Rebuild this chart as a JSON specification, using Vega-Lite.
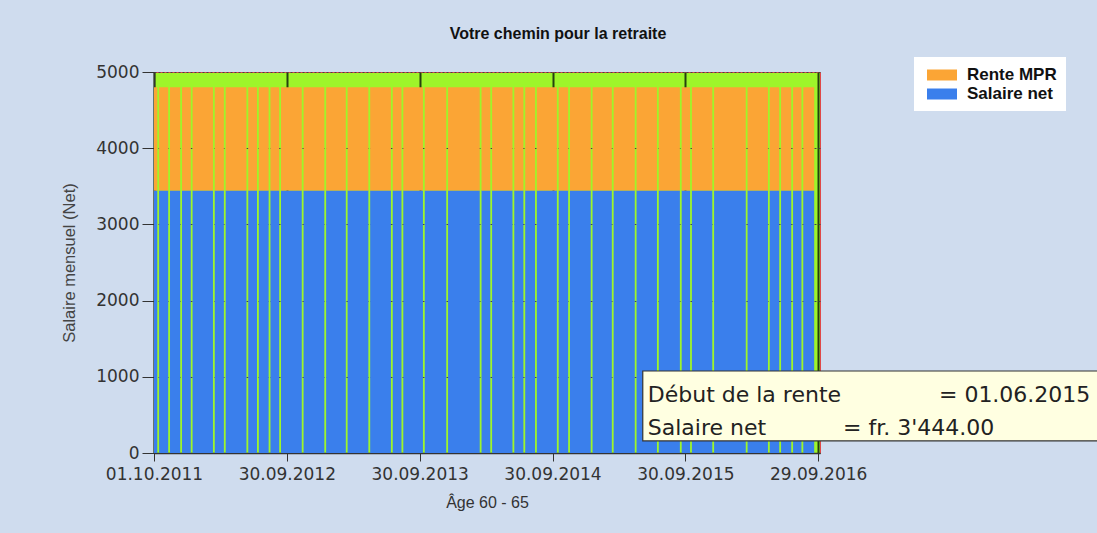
{
  "$schema": "https://vega.github.io/schema/vega-lite/v6.json",
  "autosize": {"type": "none"},
  "width": 666,
  "height": 381,
  "padding": {"left": 154, "top": 72, "right": 277, "bottom": 80},
  "background": "#cfdcee",
  "title": {
    "text": "Votre chemin pour la retraite",
    "font": "Liberation Sans",
    "fontSize": 16,
    "fontWeight": "bold",
    "color": "#111111",
    "anchor": "middle",
    "frame": "group",
    "dx": 71,
    "offset": 15
  },
  "config": {
    "view": {"fill": "#9ef52a", "stroke": "#e04848", "strokeWidth": 1},
    "legend": {
      "orient": "none",
      "legendX": 760,
      "legendY": -15,
      "fillColor": "#ffffff",
      "padding": 9,
      "symbolType": "M-0.556,-0.611L2.778,-0.611L2.778,0.611L-0.556,0.611Z",
      "symbolSize": 324,
      "symbolStrokeWidth": 0,
      "labelOffset": 26,
      "labelFont": "Liberation Sans",
      "labelFontSize": 17,
      "labelFontWeight": "bold",
      "labelColor": "#111111",
      "rowPadding": 2
    }
  },
  "datasets": {
    "barres": [
      {"debut": "2011-10-01", "fin": "2011-10-10", "Salaire net": 3444, "Rente MPR": 1356},
      {"debut": "2011-10-15", "fin": "2011-11-09", "Salaire net": 3444, "Rente MPR": 1356},
      {"debut": "2011-11-14", "fin": "2011-12-12", "Salaire net": 3444, "Rente MPR": 1356},
      {"debut": "2011-12-17", "fin": "2012-01-10", "Salaire net": 3444, "Rente MPR": 1356},
      {"debut": "2012-01-15", "fin": "2012-03-11", "Salaire net": 3444, "Rente MPR": 1356},
      {"debut": "2012-03-16", "fin": "2012-04-10", "Salaire net": 3444, "Rente MPR": 1356},
      {"debut": "2012-04-15", "fin": "2012-06-11", "Salaire net": 3444, "Rente MPR": 1356},
      {"debut": "2012-06-16", "fin": "2012-07-10", "Salaire net": 3444, "Rente MPR": 1356},
      {"debut": "2012-07-15", "fin": "2012-08-11", "Salaire net": 3444, "Rente MPR": 1356},
      {"debut": "2012-08-16", "fin": "2012-09-09", "Salaire net": 3444, "Rente MPR": 1356},
      {"debut": "2012-09-14", "fin": "2012-11-10", "Salaire net": 3444, "Rente MPR": 1356},
      {"debut": "2012-11-15", "fin": "2013-01-11", "Salaire net": 3444, "Rente MPR": 1356},
      {"debut": "2013-01-16", "fin": "2013-03-11", "Salaire net": 3444, "Rente MPR": 1356},
      {"debut": "2013-03-16", "fin": "2013-05-12", "Salaire net": 3444, "Rente MPR": 1356},
      {"debut": "2013-05-17", "fin": "2013-07-13", "Salaire net": 3444, "Rente MPR": 1356},
      {"debut": "2013-07-18", "fin": "2013-08-11", "Salaire net": 3444, "Rente MPR": 1356},
      {"debut": "2013-08-16", "fin": "2013-10-09", "Salaire net": 3444, "Rente MPR": 1356},
      {"debut": "2013-10-14", "fin": "2013-12-12", "Salaire net": 3444, "Rente MPR": 1356},
      {"debut": "2013-12-17", "fin": "2014-03-14", "Salaire net": 3444, "Rente MPR": 1356},
      {"debut": "2014-03-19", "fin": "2014-04-12", "Salaire net": 3444, "Rente MPR": 1356},
      {"debut": "2014-04-17", "fin": "2014-06-12", "Salaire net": 3444, "Rente MPR": 1356},
      {"debut": "2014-06-17", "fin": "2014-07-12", "Salaire net": 3444, "Rente MPR": 1356},
      {"debut": "2014-07-17", "fin": "2014-08-13", "Salaire net": 3444, "Rente MPR": 1356},
      {"debut": "2014-08-18", "fin": "2014-10-12", "Salaire net": 3444, "Rente MPR": 1356},
      {"debut": "2014-10-17", "fin": "2014-11-12", "Salaire net": 3444, "Rente MPR": 1356},
      {"debut": "2014-11-17", "fin": "2015-01-13", "Salaire net": 3444, "Rente MPR": 1356},
      {"debut": "2015-01-18", "fin": "2015-03-12", "Salaire net": 3444, "Rente MPR": 1356},
      {"debut": "2015-03-17", "fin": "2015-05-14", "Salaire net": 3444, "Rente MPR": 1356},
      {"debut": "2015-05-19", "fin": "2015-07-14", "Salaire net": 3444, "Rente MPR": 1356},
      {"debut": "2015-07-19", "fin": "2015-09-15", "Salaire net": 3444, "Rente MPR": 1356},
      {"debut": "2015-09-20", "fin": "2015-10-13", "Salaire net": 3444, "Rente MPR": 1356},
      {"debut": "2015-10-18", "fin": "2015-12-13", "Salaire net": 3444, "Rente MPR": 1356},
      {"debut": "2015-12-18", "fin": "2016-03-14", "Salaire net": 3444, "Rente MPR": 1356},
      {"debut": "2016-03-19", "fin": "2016-05-14", "Salaire net": 3444, "Rente MPR": 1356},
      {"debut": "2016-05-19", "fin": "2016-06-14", "Salaire net": 3444, "Rente MPR": 1356},
      {"debut": "2016-06-19", "fin": "2016-07-17", "Salaire net": 3444, "Rente MPR": 1356},
      {"debut": "2016-07-22", "fin": "2016-08-14", "Salaire net": 3444, "Rente MPR": 1356},
      {"debut": "2016-08-19", "fin": "2016-09-18", "Salaire net": 3444, "Rente MPR": 1356}
    ],
    "infobulle": [
      {"texte": "Début de la rente\u00a0\u00a0\u00a0\u00a0\u00a0\u00a0\u00a0\u00a0\u00a0\u00a0\u00a0\u00a0\u00a0\u00a0= 01.06.2015\nSalaire net\u00a0\u00a0\u00a0\u00a0\u00a0\u00a0\u00a0\u00a0\u00a0\u00a0\u00a0= fr. 3'444.00"}
    ]
  },
  "layer": [
    {
      "data": {"name": "barres"},
      "transform": [
        {"fold": ["Salaire net", "Rente MPR"], "as": ["serie", "montant"]},
        {"stack": "montant", "groupby": ["debut"], "sort": [{"field": "serie", "order": "descending"}], "as": ["bas", "haut"]}
      ],
      "mark": {"type": "rect"},
      "encoding": {
        "x": {
          "field": "debut",
          "type": "temporal",
          "scale": {
            "domain": [{"year": 2011, "month": 10, "date": 1}, {"year": 2016, "month": 10, "date": 4}],
            "nice": false
          },
          "axis": {
            "values": [
              {"year": 2011, "month": 10, "date": 1},
              {"year": 2012, "month": 9, "date": 30},
              {"year": 2013, "month": 9, "date": 30},
              {"year": 2014, "month": 9, "date": 30},
              {"year": 2015, "month": 9, "date": 30},
              {"year": 2016, "month": 9, "date": 29}
            ],
            "format": "%d.%m.%Y",
            "title": "Âge 60 - 65",
            "grid": true,
            "gridColor": "#24410f",
            "gridWidth": 2,
            "tickSize": 8,
            "tickColor": "#333333",
            "domainColor": "#333333",
            "domainWidth": 1.5,
            "labelPadding": 5,
            "labelFont": "DejaVu Sans",
            "labelFontSize": 17,
            "labelColor": "#333333",
            "labelOverlap": false,
            "labelFlush": false,
            "titleFont": "Liberation Sans",
            "titleFontSize": 16,
            "titleFontWeight": "normal",
            "titleColor": "#333333",
            "titlePadding": 12
          }
        },
        "x2": {"field": "fin"},
        "y": {
          "field": "bas",
          "type": "quantitative",
          "scale": {"domain": [0, 5000], "nice": false},
          "axis": {
            "values": [0, 1000, 2000, 3000, 4000, 5000],
            "format": "d",
            "title": "Salaire mensuel (Net)",
            "grid": true,
            "gridColor": "#444444",
            "gridDash": [2, 2],
            "gridWidth": 1,
            "tickSize": 12,
            "tickColor": "#333333",
            "domainColor": "#333333",
            "domainWidth": 1.5,
            "labelPadding": 3,
            "labelFont": "DejaVu Sans",
            "labelFontSize": 17,
            "labelColor": "#333333",
            "titleFont": "Liberation Sans",
            "titleFontSize": 16.5,
            "titleFontWeight": "normal",
            "titleColor": "#444444",
            "titlePadding": 18
          }
        },
        "y2": {"field": "haut"},
        "color": {
          "field": "serie",
          "type": "nominal",
          "scale": {"domain": ["Rente MPR", "Salaire net"], "range": ["#fba535", "#3a7fec"]},
          "legend": {"title": null}
        }
      }
    },
    {
      "data": {"name": "infobulle"},
      "mark": {"type": "rect", "fill": "#ffffe1", "stroke": "#333333", "strokeWidth": 1.2},
      "encoding": {
        "x": {"datum": {"year": 2015, "month": 6, "date": 5}, "type": "temporal"},
        "x2": {"datum": {"year": 2019, "month": 1, "date": 1}},
        "y": {"datum": 1076, "type": "quantitative"},
        "y2": {"datum": 158}
      }
    },
    {
      "data": {"name": "infobulle"},
      "mark": {
        "type": "text",
        "align": "left",
        "baseline": "alphabetic",
        "dx": 5,
        "font": "DejaVu Sans",
        "fontSize": 22,
        "lineHeight": 33,
        "lineBreak": "\n",
        "color": "#222222"
      },
      "encoding": {
        "x": {"datum": {"year": 2015, "month": 6, "date": 5}, "type": "temporal"},
        "y": {"datum": 672, "type": "quantitative"},
        "text": {"field": "texte"}
      }
    }
  ]
}
